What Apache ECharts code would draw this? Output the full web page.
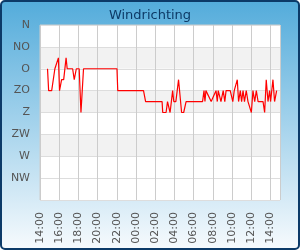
<!DOCTYPE html>
<html>
<head>
<meta charset="utf-8">
<script src="https://cdn.jsdelivr.net/npm/echarts@6/dist/echarts.min.js"></script>
<style>
  html, body { margin: 0; padding: 0; }
  #bg {
    position: absolute; left: 0; top: 0; width: 300px; height: 250px;
    box-sizing: border-box; border: 2px solid #0c3a68; border-radius: 5px;
    background: linear-gradient(to bottom, #54acdb, #f6fafd);
  }
  #chart { position: absolute; left: 0; top: 0; width: 300px; height: 250px; }
</style>
</head>
<body>
<div id="bg"></div>
<div id="chart"></div>
<script>
// windrichting, metingen (tijd, graden)
var times = [
  '14:47', '14:54', '15:13', '15:33', '15:55', '16:02', '16:15', '16:28', '16:43', '16:50',
  '17:24', '17:34', '17:47', '18:05', '18:16', '18:32', '22:01', '22:06', '00:47', '01:00',
  '02:43', '02:47', '03:08', '03:17', '03:33', '03:49', '03:56', '04:09', '04:26', '04:45',
  '04:58', '05:13', '06:56', '07:05', '07:11', '07:17', '07:24', '07:50', '08:00', '08:20',
  '08:28', '08:34', '08:40', '08:51', '09:05', '09:15', '09:23', '09:49', '10:05', '10:14',
  '10:33', '10:41', '10:52', '11:00', '11:09', '11:18', '11:29', '11:40', '12:01', '12:11',
  '12:22', '12:32', '12:43', '13:14', '13:24', '13:34', '13:45', '13:55', '14:01', '14:16',
  '14:26', '14:39'
];
var directions = [
  90, 135, 135, 90, 67.5, 135, 112.5, 112.5, 67.5, 90,
  90, 112.5, 90, 90, 180, 90, 90, 135, 135, 157.5,
  157.5, 180, 180, 157.5, 180, 135, 157.5, 157.5, 112.5, 180,
  180, 157.5, 157.5, 135, 157.5, 135, 135, 157.5, 157.5, 135,
  157.5, 135, 135, 157.5, 135, 157.5, 135, 135, 157.5, 135,
  112.5, 157.5, 135, 157.5, 135, 157.5, 135, 157.5, 180, 135,
  157.5, 135, 157.5, 157.5, 180, 112.5, 157.5, 135, 157.5, 112.5,
  157.5, 135
];
var compassLabels = ['N', 'NO', 'O', 'ZO', 'Z', 'ZW', 'W', 'NW', ''];
var startHour = 14;

// tijden omzetten naar uren sinds 14:00 (doorlopend over middernacht)
var points = [];
var prev = -1;
for (var i = 0; i < times.length; i++) {
  var p = times[i].split(':');
  var h = +p[0] + p[1] / 60 - startHour;
  if (h < 0) h += 24;
  while (h < prev) h += 24;
  prev = h;
  points.push([h, directions[i]]);
}

var labelFont = { fontFamily: 'DejaVu Sans', fontSize: 11, color: '#555' };

var chart = echarts.init(document.getElementById('chart'));
chart.setOption({
  backgroundColor: 'transparent',
  animation: false,
  title: {
    text: 'Windrichting',
    left: 'center',
    top: 4,
    textStyle: { fontFamily: 'DejaVu Sans', fontSize: 13, fontWeight: 'normal', color: '#0d3a66' }
  },
  grid: {
    left: 40, top: 25, width: 240, height: 175,
    show: true, backgroundColor: '#fff', borderColor: '#ccc', borderWidth: 1
  },
  xAxis: {
    type: 'value', min: 0, max: 25, interval: 2,
    axisLine: { show: false }, axisTick: { show: false },
    splitLine: { show: true, lineStyle: { color: '#ccc', width: 1 } },
    axisLabel: Object.assign({
      rotate: 90, margin: 12, showMaxLabel: false,
      formatter: function (v) {
        if (v % 2) return '';
        var hh = (startHour + v) % 24;
        return (hh < 10 ? '0' : '') + hh + ':00';
      }
    }, labelFont)
  },
  yAxis: {
    type: 'value', inverse: true, min: 0, max: 360, interval: 45,
    axisLine: { show: false }, axisTick: { show: false },
    splitLine: { show: true, lineStyle: { color: '#ddd', width: 1 } },
    splitArea: { show: true, areaStyle: { color: ['#fff', '#f2f2f2', '#fff', '#f2f2f2', '#fff', '#f2f2f2', '#fff', '#fff'] } },
    axisLabel: Object.assign({
      margin: 10,
      formatter: function (v) { return compassLabels[Math.round(v / 45)]; }
    }, labelFont)
  },
  series: [{
    type: 'line',
    data: points,
    showSymbol: false,
    lineStyle: { color: '#ff0000', width: 1.2 }
  }]
});
</script>
</body>
</html>
